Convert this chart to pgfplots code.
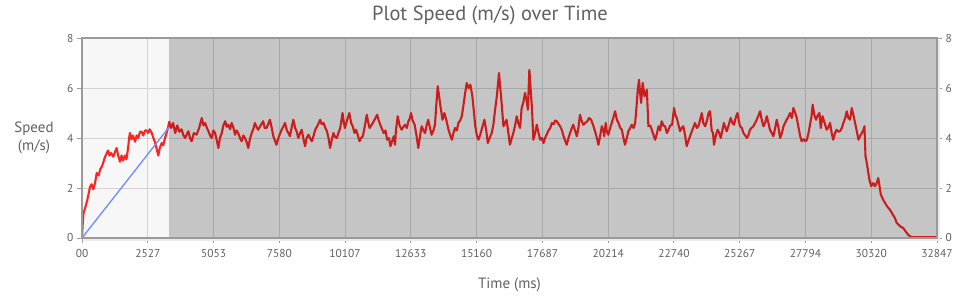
\documentclass[border=0pt]{standalone}
\usepackage{pgfplots}
\pgfplotsset{compat=1.18}
\usepackage{fontspec}
\setmainfont{PT Sans}
\usetikzlibrary{calc}
\definecolor{txt}{HTML}{606060}
\definecolor{gridc}{HTML}{D2D2D2}
\definecolor{bgc}{HTML}{F7F7F7}
\definecolor{framec}{HTML}{9A9A9A}
\definecolor{redline}{RGB}{255,36,36}
\definecolor{blueline}{RGB}{110,140,255}
\pgfplotstableread{
t y
0 0
30 0.6
60 1.0
120 1.2
200 1.5
260 1.8
310 2.05
370 2.15
435 1.95
500 2.2
565 2.6
640 2.5
700 2.75
760 2.85
810 3.0
870 3.2
930 3.35
1000 3.5
1060 3.3
1120 3.4
1200 3.25
1270 3.45
1330 3.6
1390 3.3
1460 3.05
1520 3.3
1580 3.1
1650 3.3
1710 3.15
1770 3.6
1810 4.0
1840 4.2
1900 3.95
1960 4.1
2040 3.85
2100 4.1
2160 4.0
2230 4.25
2290 4.25
2350 4.1
2420 4.3
2480 4.3
2540 4.2
2600 4.35
2680 4.2
2740 4.0
2800 3.85
2860 3.6
2930 3.3
2990 3.6
3060 3.8
3120 3.7
3190 4.0
3250 4.2
3300 4.4
3350 4.65
3420 4.4
3500 4.6
3580 4.2
3660 4.5
3740 4.25
3820 4.35
3900 4.1
3960 4.0
4085 4.27
4150 4.0
4210 3.87
4300 4.2
4400 4.13
4500 4.4
4600 4.8
4670 4.5
4730 4.6
4800 4.4
4860 4.27
4920 4.1
4980 4.0
5050 4.3
5110 4.2
5180 3.9
5240 3.6
5300 4.0
5370 4.2
5430 4.5
5500 4.67
5560 4.45
5620 4.53
5690 4.35
5750 4.6
5820 4.4
5880 4.13
5940 4.3
6000 4.2
6070 4.0
6130 3.87
6200 4.1
6260 4.0
6320 3.85
6390 3.6
6450 3.95
6520 4.2
6580 4.35
6640 4.6
6700 4.45
6770 4.33
6860 4.5
6960 4.67
7020 4.4
7090 4.4
7150 4.55
7220 4.73
7290 4.4
7350 4.07
7410 3.9
7470 3.73
7560 4.05
7670 4.33
7730 4.45
7800 4.6
7870 4.3
7930 4.2
7990 4.07
8050 4.4
8120 4.73
8190 4.4
8250 4.25
8310 4.0
8380 4.2
8440 4.33
8500 4.0
8570 3.67
8630 4.0
8700 4.13
8760 4.0
8830 3.87
8900 4.1
8960 4.33
9050 4.5
9150 4.73
9210 4.55
9280 4.6
9350 4.4
9410 4.27
9470 4.0
9530 3.6
9600 3.95
9660 4.2
9720 4.05
9790 4.0
9850 4.2
9920 4.4
10010 5.0
10060 4.6
10100 4.4
10180 4.7
10270 5.0
10340 4.6
10400 4.47
10470 4.2
10530 4.33
10600 4.1
10660 3.87
10720 4.0
10790 4.07
10870 4.5
10940 4.93
11000 4.6
11050 4.4
11110 4.5
11170 4.6
11250 4.75
11340 4.93
11400 4.7
11460 4.53
11530 4.35
11590 4.2
11660 4.3
11720 3.93
11790 4.0
11850 3.67
11920 3.9
11980 4.07
12025 3.73
12060 4.3
12130 4.87
12200 4.5
12280 4.33
12350 4.45
12410 4.53
12480 4.4
12540 4.67
12600 4.8
12640 5.0
12700 4.7
12780 4.53
12850 4.1
12920 3.6
12990 4.1
13050 4.47
13120 4.3
13180 4.2
13240 4.5
13300 4.73
13370 4.4
13430 4.13
13500 4.3
13560 4.53
13610 5.3
13665 6.07
13720 5.67
13780 5.2
13850 4.73
13920 5.0
14000 4.7
14080 4.33
14150 4.1
14210 3.93
14270 4.2
14330 4.4
14400 4.3
14460 4.6
14530 4.7
14590 4.87
14650 5.27
14720 5.8
14780 6.2
14850 6.0
14920 6.13
14997 5.67
15060 5.0
15110 4.47
15170 4.1
15230 3.93
15290 4.1
15350 4.33
15400 4.5
15460 4.73
15530 4.3
15590 3.8
15660 4.0
15740 4.2
15800 4.5
15870 5.13
15940 5.7
16020 6.6
16060 6.1
16120 5.4
16190 4.47
16250 4.6
16310 4.73
16380 4.2
16440 3.73
16500 3.95
16570 4.2
16640 4.5
16700 4.87
16760 4.6
16830 4.4
16890 5.2
16950 5.4
17020 5.8
17080 5.5
17130 5.13
17186 6.73
17240 5.9
17290 5.13
17340 3.93
17410 4.2
17470 4.53
17540 4.2
17600 3.93
17670 4.0
17730 3.8
17790 4.0
17850 4.13
17920 4.3
17990 4.4
18050 4.6
18120 4.55
18180 4.7
18240 4.67
18310 4.55
18370 4.47
18440 4.3
18500 4.07
18560 3.9
18620 3.73
18690 4.0
18750 4.2
18820 4.4
18870 4.53
18940 4.3
19010 4.07
19070 4.4
19130 4.93
19190 4.7
19260 4.53
19330 4.6
19415 4.67
19480 4.8
19560 4.73
19640 4.5
19710 4.27
19780 4.0
19840 3.73
19910 4.1
19970 4.47
20030 4.3
20060 4.07
20120 4.6
20160 4.27
20220 4.13
20290 4.4
20350 4.6
20410 4.8
20480 5.07
20550 4.73
20610 4.6
20680 4.4
20740 4.33
20800 4.0
20860 3.73
20930 4.0
20990 4.27
21060 4.4
21120 4.53
21190 4.4
21250 4.6
21300 5.2
21350 5.93
21400 6.33
21440 5.8
21480 5.4
21540 6.2
21580 5.9
21610 5.67
21660 5.8
21700 5.93
21760 4.47
21830 4.5
21890 4.33
21960 4.1
22020 3.93
22090 4.2
22150 4.47
22210 4.3
22270 4.67
22340 4.5
22400 4.47
22470 4.2
22530 4.33
22600 4.5
22670 4.53
22745 5.2
22800 4.9
22850 4.8
22920 4.5
22975 4.27
23040 4.4
23100 4.47
23170 4.1
23230 3.67
23300 3.9
23360 4.07
23440 4.3
23550 4.6
23620 4.4
23680 4.47
23740 4.7
23810 5.0
23870 4.6
23940 4.47
24010 4.7
24070 5.0
24130 5.07
24190 4.3
24240 4.2
24280 3.73
24350 4.1
24420 4.33
24480 4.2
24540 4.0
24600 4.3
24660 4.6
24720 4.4
24770 4.27
24840 4.5
24920 4.8
24990 4.6
25050 4.53
25110 4.8
25180 5.0
25230 4.7
25280 4.47
25350 4.4
25410 4.2
25480 4.1
25540 4.0
25600 4.1
25660 4.33
25720 4.4
25790 4.47
25860 4.6
25920 4.73
25990 4.9
26050 5.07
26120 4.7
26180 4.47
26240 4.6
26310 4.87
26370 4.6
26430 4.33
26500 4.2
26560 4.07
26630 4.4
26690 4.73
26760 4.4
26820 4.0
26890 4.2
26950 4.47
27010 4.6
27070 4.73
27140 4.85
27200 5.0
27270 4.8
27330 5.2
27400 5.0
27460 4.8
27530 4.4
27590 4.07
27650 3.87
27720 3.95
27790 3.87
27850 3.93
27910 4.2
27980 4.6
28030 4.9
28070 5.33
28140 4.9
28200 4.73
28260 4.9
28330 5.0
28380 4.4
28450 4.87
28530 4.6
28610 4.33
28680 4.45
28740 4.6
28800 4.2
28860 3.93
28930 4.2
28990 4.33
29060 4.25
29120 4.27
29190 4.4
29250 4.6
29320 4.8
29380 5.07
29440 4.8
29510 4.73
29570 5.2
29640 4.9
29700 4.6
29760 4.3
29830 3.93
29900 4.1
29960 4.2
30010 4.3
30060 4.47
30100 3.27
30150 3.0
30190 2.73
30250 2.33
30320 2.07
30400 2.2
30460 2.07
30530 2.2
30590 2.4
30650 2.0
30690 1.73
30770 1.55
30850 1.4
30940 1.25
31040 1.13
31140 0.95
31230 0.8
31300 0.6
31370 0.53
31450 0.45
31550 0.4
31650 0.25
31740 0.13
31800 0.08
31870 0.03
31950 0.03
32847 0.03
}\speed
\begin{document}
\begin{tikzpicture}
\begin{axis}[name=ax, scale only axis, width=855bp, height=200bp,
  xmin=0, xmax=32847, ymin=0, ymax=8,
  scaled x ticks=false,
  xtick={0,2527,5053,7580,10107,12633,15160,17687,20214,22740,25267,27794,30320,32847},
  xticklabels={00,2527,5053,7580,10107,12633,15160,17687,20214,22740,25267,27794,30320,32847},
  ytick={0,2,4,6,8},
  grid=major, grid style={draw=gridc, line width=0.9bp},
  axis background/.style={fill=bgc},
  axis line style={draw=framec, line width=1.3bp},
  tick style={draw=framec, line width=0.9bp},
  tick align=outside, major tick length=5bp,
  xtick pos=bottom, ytick pos=left,
  tick label style={font=\fontsize{11.5}{13}\selectfont, text=txt},
  xticklabel style={yshift=-3bp},
  /pgf/number format/assume math mode=true,
  clip=true,
]
\addplot[color=redline, line width=2.1bp, line join=round] table[x=t,y=y]{\speed};
\addplot[color=blueline, line width=1.3bp] coordinates {(0,0) (3342,4.43)};
\addplot[draw=none, fill=black, fill opacity=0.2] coordinates {(3342,8) (32847,8)} \closedcycle;
\end{axis}
\begin{axis}[at={(ax.south west)}, anchor=south west, scale only axis, width=855bp, height=200bp,
  xmin=0, xmax=1, ymin=0, ymax=8, ytick={0,2,4,6,8},
  axis x line=none, axis y line*=right,
  axis line style={draw=none},
  tick style={draw=framec, line width=0.9bp},
  tick align=outside, major tick length=5bp,
  tick label style={font=\fontsize{11.5}{13}\selectfont, text=txt},
  /pgf/number format/assume math mode=true,
]
\addplot[draw=none] coordinates {(0,0) (1,8)};
\end{axis}
\draw[black!8, line width=2bp] ($(ax.south west)+(2bp,-1.8bp)$) -- ($(ax.south east)+(1.8bp,-1.8bp)$) -- ($(ax.north east)+(1.8bp,-2bp)$);
\draw[framec, line width=1.3bp] (ax.south west) rectangle (ax.north east);
\node[font=\fontsize{20.5}{24}\selectfont, text=txt] at ($(ax.north)+(-19.5bp,23bp)$) {Plot Speed (m/s) over Time};
\node[font=\fontsize{15}{18}\selectfont, text=txt] at ($(ax.south)+(0,-47bp)$) {Time (ms)};
\node[font=\fontsize{15}{18}\selectfont, text=txt, align=center] at ($(ax.west)+(-48bp,0)$) {Speed\\(m/s)};
\path[use as bounding box] ($(ax.south west)+(-82bp,-60bp)$) rectangle ($(ax.north east)+(43bp,38bp)$);
\end{tikzpicture}
\end{document}
